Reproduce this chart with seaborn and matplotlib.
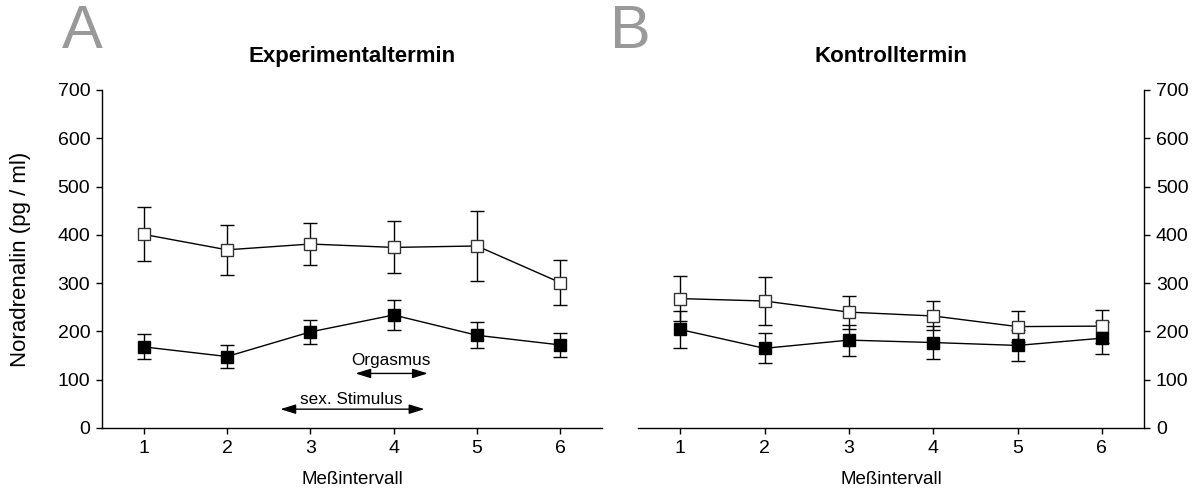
import matplotlib
matplotlib.use("Agg")
import matplotlib.pyplot as plt
import seaborn as sns
import pandas as pd

sns.set_style("ticks")
plt.rcParams['font.family'] = ['Liberation Sans', 'DejaVu Sans']
plt.rcParams.update({'text.color': 'black', 'axes.labelcolor': 'black',
                     'xtick.color': 'black', 'ytick.color': 'black'})

intervals = [1, 2, 3, 4, 5, 6]

# Experimentaltermin
exp_open = [401, 369, 381, 374, 377, 301]
exp_open_err = [56, 52, 43, 54, 73, 46]
exp_filled = [168, 148, 199, 234, 192, 172]
exp_filled_err = [26, 24, 24, 32, 27, 24]

# Kontrolltermin
ctl_open = [268, 263, 240, 232, 210, 211]
ctl_open_err = [46, 50, 34, 30, 32, 34]
ctl_filled = [204, 165, 182, 177, 171, 186]
ctl_filled_err = [38, 31, 32, 34, 32, 33]

panels = [
    ("Experimentaltermin", exp_open, exp_open_err, exp_filled, exp_filled_err),
    ("Kontrolltermin", ctl_open, ctl_open_err, ctl_filled, ctl_filled_err),
]

fig = plt.figure(figsize=(11.94, 4.93), dpi=100)
ax_a = fig.add_axes([102 / 1194, 65 / 493, 500 / 1194, 338 / 493])
ax_b = fig.add_axes([638 / 1194, 65 / 493, 506 / 1194, 338 / 493])

for ax, (title, yo, eo, yf, ef) in zip([ax_a, ax_b], panels):
    df_o = pd.DataFrame({"x": intervals, "y": yo})
    df_f = pd.DataFrame({"x": intervals, "y": yf})
    ax.errorbar(intervals, yo, yerr=eo, fmt='none', ecolor='black',
                elinewidth=1, capsize=5, capthick=1, zorder=2)
    ax.errorbar(intervals, yf, yerr=ef, fmt='none', ecolor='black',
                elinewidth=1, capsize=5, capthick=1, zorder=2)
    sns.lineplot(data=df_o, x="x", y="y", ax=ax, color='black', lw=1,
                 marker='s', markersize=9, markerfacecolor='white',
                 markeredgecolor='#333333', markeredgewidth=1, zorder=3)
    sns.lineplot(data=df_f, x="x", y="y", ax=ax, color='black', lw=1,
                 marker='s', markersize=9, markerfacecolor='black',
                 markeredgecolor='black', markeredgewidth=1, zorder=4)
    ax.set_xlim(0.5, 6.5)
    ax.set_ylim(0, 700)
    ax.set_xticks(intervals)
    ax.set_yticks(range(0, 701, 100))
    ax.set_xlabel("Meßintervall", fontsize=13.5, labelpad=10)
    ax.tick_params(labelsize=14, length=4.5, width=1, color='black', pad=4)
    ax.set_title(title, fontsize=16, fontweight='bold', pad=20, color='black')
    for s in ax.spines.values():
        s.set_linewidth(1)
        s.set_color('black')

ax_a.set_ylabel("Noradrenalin (pg / ml)", fontsize=16)
ax_a.yaxis.set_label_coords(-0.142, 0.5)
sns.despine(ax=ax_a)
sns.despine(ax=ax_b, left=True, right=False)
ax_b.yaxis.tick_right()
ax_b.set_ylabel("")

# annotations in panel A
arr = dict(arrowstyle='<|-|>,head_length=0.58,head_width=0.18', color='black',
           lw=1, mutation_scale=16, shrinkA=0, shrinkB=0)
ax_a.annotate("", xy=(3.54, 113), xytext=(4.41, 113), arrowprops=arr)
ax_a.text(3.97, 139, "Orgasmus", ha='center', va='center', fontsize=12.3)
ax_a.annotate("", xy=(2.64, 39), xytext=(4.37, 39), arrowprops=arr)
ax_a.text(3.49, 58, "sex. Stimulus", ha='center', va='center', fontsize=12.3)

# panel letters
fig.text(82 / 1194, 1 - 32 / 493, "A", ha='center', va='center',
         fontsize=44, color='#999999')
fig.text(630 / 1194, 1 - 32 / 493, "B", ha='center', va='center',
         fontsize=44, color='#999999')

fig.savefig("out.png", dpi=100)
